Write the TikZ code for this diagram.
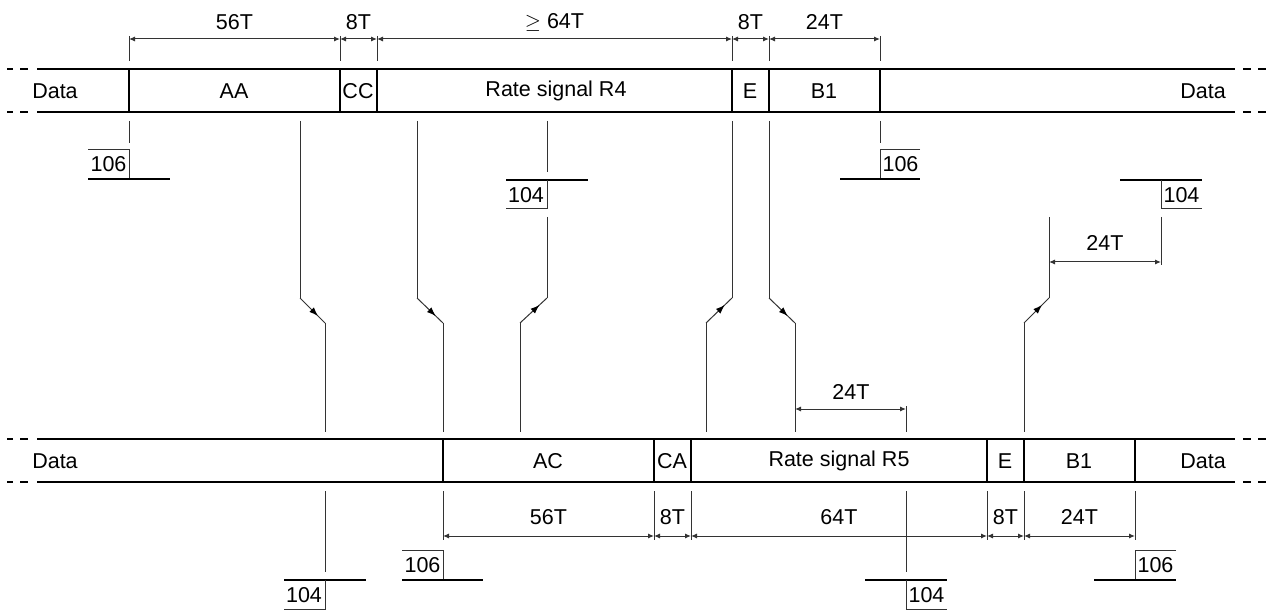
\documentclass[tikz,border=0pt]{standalone}
\usepackage{fontspec}
\setmainfont{Liberation Sans}
\usetikzlibrary{arrows.meta,decorations.markings}
\tikzset{
  bar/.style={line width=2.5pt,line cap=butt},
  thin/.style={line width=1pt,black!80},
  lead/.style={line width=2pt},
  dimarrow/.style={thin,{Latex[length=6pt,width=5pt]}-{Latex[length=6pt,width=5pt]}},
  lbl/.style={font=\fontsize{21.5}{25}\selectfont,inner sep=0pt,text=black},
  midarrow/.style={thin,decoration={markings,mark=at position 0.72 with {\arrow[black]{Latex[length=9pt,width=6.5pt]}}},postaction={decorate}},
}
\begin{document}
\begin{tikzpicture}[x=1pt,y=-1pt]
\useasboundingbox (0,0) rectangle (1266,612);

% ---------- top bar ----------
\draw[bar] (37,69) -- (1235,69) (37,112) -- (1235,112);
\draw[bar] (7,69) -- (13,69) (20,69) -- (28,69) (7,112) -- (13,112) (20,112) -- (28,112);
\draw[bar] (1243,69) -- (1251,69) (1258,69) -- (1266,69) (1243,112) -- (1251,112) (1258,112) -- (1266,112);
\foreach \x in {129,340,377,732,769,880} \draw[bar] (\x,69) -- (\x,112);
\node[lbl] (td1) at (55,91) {Data};
\node[lbl] (taa) at (234,91) {AA};
\node[lbl] (tcc) at (358,91) {CC};
\node[lbl] (tr4) at (556,91) {Rate signal R4};
\node[lbl] (te) at (750,91) {E};
\node[lbl] (tb1) at (824,91) {B1};
\node[lbl,anchor=east] (td2) at (1226,91) {Data};

% top dimensions
\foreach \x in {129,340,377,732,769,880} \draw[thin] (\x,36) -- (\x,61);
\foreach \a/\b/\t/\n in {129/340/56T/da,340/377/8T/db,377/732/$\geq$ 64T/dc,732/769/8T/dd,769/880/24T/de}{
  \coordinate (\n1) at (\a,39); \coordinate (\n2) at (\b,39);
  \draw[dimarrow] (\n1) -- (\n2);
  \node[lbl] (\n t) at ({(\a+\b)/2},22) {\t};
}

% ---------- markers under top bar ----------
% 106 at 129
\draw[thin] (129,121) -- (129,143);
\draw[thin] (88,150) -- (129,150) -- (129,179);
\draw[lead] (88,179) -- (170,179);
\node[lbl] (m1) at (108.5,164.5) {106};
% 106 at 880
\draw[thin] (880,121) -- (880,143);
\draw[thin] (920,150) -- (880,150) -- (880,179);
\draw[lead] (840,179) -- (920,179);
\node[lbl] (m2) at (900.5,164.5) {106};
% 104 at 547
\draw[thin] (547,121) -- (547,172);
\draw[lead] (506,180) -- (588,180);
\draw[thin] (547,180) -- (547,209) -- (506,209);
\node[lbl] (m3) at (526,195) {104};
% 104 at 1161
\draw[lead] (1120,180) -- (1202,180);
\draw[thin] (1161,180) -- (1161,209) -- (1202,209);
\node[lbl] (m4) at (1181.5,195) {104};

% ---------- connectors ----------
\foreach \n/\xa/\ya/\xb in {c1/300/121/325, c2/417/121/443, c3/547/217/520, c4/732/121/706, c5/769/121/795, c6/1049/217/1024}{
  \coordinate (\n a) at (\xa,\ya);
  \coordinate (\n b) at (\xa,298);
  \coordinate (\n c) at (\xb,323);
  \coordinate (\n d) at (\xb,432);
}
\foreach \n in {c1,c2,c5}{
  \draw[thin] (\n a) -- (\n b);
  \draw[midarrow] (\n b) -- (\n c);
  \draw[thin] (\n c) -- (\n d);
}
\foreach \n in {c3,c4,c6}{
  \draw[thin] (\n a) -- (\n b);
  \draw[midarrow] (\n c) -- (\n b);
  \draw[thin] (\n c) -- (\n d);
}

% 24T right
\draw[thin] (1161,217) -- (1161,265);
\coordinate (r1) at (1049,262); \coordinate (r2) at (1161,262);
\draw[dimarrow] (r1) -- (r2);
\node[lbl] (rt) at (1105,243) {24T};
% 24T middle
\draw[thin] (906,406) -- (906,432);
\coordinate (s1) at (795,409); \coordinate (s2) at (906,409);
\draw[dimarrow] (s1) -- (s2);
\node[lbl] (st) at (851,392) {24T};

% ---------- lower bar ----------
\draw[bar] (37,439) -- (1235,439) (37,482) -- (1235,482);
\draw[bar] (7,439) -- (13,439) (20,439) -- (28,439) (7,482) -- (13,482) (20,482) -- (28,482);
\draw[bar] (1243,439) -- (1251,439) (1258,439) -- (1266,439) (1243,482) -- (1251,482) (1258,482) -- (1266,482);
\foreach \x in {443,654,691,987,1024,1135} \draw[bar] (\x,439) -- (\x,482);
\node[lbl] (bd1) at (55,461) {Data};
\node[lbl] (bac) at (548,461) {AC};
\node[lbl] (bca) at (672,461) {CA};
\node[lbl] (br5) at (839,461) {Rate signal R5};
\node[lbl] (be) at (1005,461) {E};
\node[lbl] (bb1) at (1079,461) {B1};
\node[lbl,anchor=east] (bd2) at (1226,461) {Data};

% lower dimensions
\foreach \x in {443,654,691,987,1024,1135} \draw[thin] (\x,491) -- (\x,540);
\foreach \a/\b/\t/\n in {443/654/56T/ea,654/691/8T/eb,691/987/64T/ec,987/1024/8T/ed,1024/1135/24T/ee}{
  \coordinate (\n1) at (\a,536); \coordinate (\n2) at (\b,536);
  \draw[dimarrow] (\n1) -- (\n2);
  \node[lbl] (\n t) at ({(\a+\b)/2},517) {\t};
}

% ---------- markers under lower bar ----------
% 104 at 325
\draw[thin] (325,491) -- (325,572);
\draw[lead] (284,580) -- (366,580);
\draw[thin] (325,580) -- (325,609) -- (284,609);
\node[lbl] (n1) at (304,595) {104};
% 106 at 443
\draw[thin] (402,550) -- (443,550) -- (443,580);
\draw[lead] (402,580) -- (483,580);
\node[lbl] (n2) at (422.5,565) {106};
% 104 at 906
\draw[thin] (906,491) -- (906,572);
\draw[lead] (865,580) -- (947,580);
\draw[thin] (906,580) -- (906,609) -- (947,609);
\node[lbl] (n3) at (926.5,595) {104};
% 106 at 1135
\draw[thin] (1176,550) -- (1135,550) -- (1135,580);
\draw[lead] (1094,580) -- (1176,580);
\node[lbl] (n4) at (1155.5,565) {106};
\end{tikzpicture}
\end{document}
